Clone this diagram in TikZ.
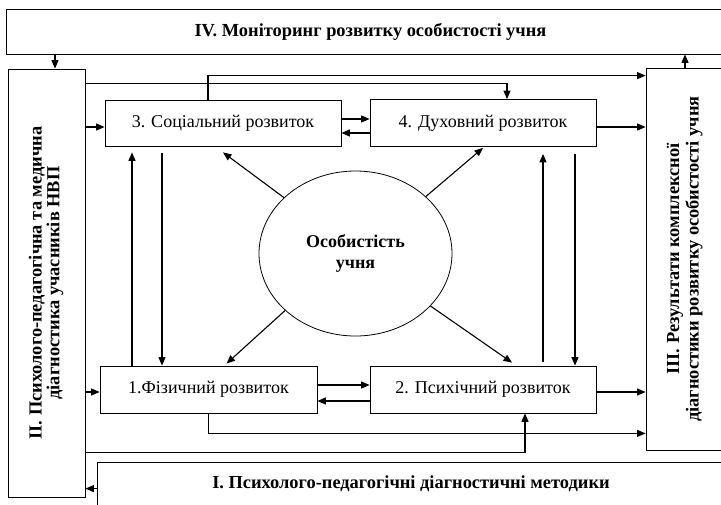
\documentclass[tikz,border=0pt]{standalone}
\usepackage{fontspec}
\setmainfont{Liberation Serif}
\usepackage{graphicx}
\usetikzlibrary{shapes.geometric, arrows.meta, positioning}
\tikzstyle{recNode} = [rectangle, draw=black, line width=0.8pt, inner sep=0pt, text centered, font=\fontsize{18}{20}\selectfont]
\tikzstyle{headNode} = [recNode, align=center, font=\bfseries\fontsize{18.4}{20}\selectfont]
\tikzstyle{ellNode} = [ellipse, draw=black, line width=0.8pt, inner sep=0pt, minimum width=193pt, minimum height=165pt, align=center, font=\bfseries\fontsize{18}{20.5}\selectfont]
\tikzstyle{arrow} = [line width=1.1pt, -{Triangle[length=8.5pt,width=7pt]}]
\newcommand{\vertText}[3]{\rotatebox{90}{\fontsize{18.4}{#1}\selectfont\begin{tabular}{@{}c@{}}#2\\#3\end{tabular}}}

\begin{document}
\begin{tikzpicture}[x=1pt, y=-1pt, node distance=260pt]
        \useasboundingbox (0,0) rectangle (721,504);
        \node (mon) [headNode, minimum width=729pt, minimum height=45pt] at (370.5,31.5) {IV. Моніторинг розвитку особистості учня};
        \node (diag) [headNode, minimum width=77pt, minimum height=428pt] at (46.5,283) {\vertText{16.5pt}{II. Психолого-педагогічна та медична}{діагностика учасників НВП}};
        \node (res) [headNode, minimum width=78pt, minimum height=382pt] at (685,259) {\vertText{19.5pt}{III. Результати комплексної}{діагностики розвитку особистості учня}};
        \node (meth) [headNode, minimum width=628pt, minimum height=44pt] at (411,484) {I. Психолого-педагогічні діагностичні методики};
        \node (soc) [recNode, minimum width=236pt, minimum height=46pt] at (223,123) {3. Соціальний розвиток};
        \node (dukh) [recNode, minimum width=226pt, minimum height=47pt, right of=soc] {4. Духовний розвиток};
        \node (fiz) [recNode, minimum width=217pt, minimum height=47pt, below of=soc, xshift=-14.5pt, yshift=-6.5pt] {1.Фізичний розвиток};
        \node (psy) [recNode, minimum width=226pt, minimum height=47pt, right of=fiz, xshift=14.5pt] {2. Психічний розвиток};
        \node (ell) [ellNode] at (355.5,253.5) {Особистість\\учня};

        % frame links
        \draw [arrow] ([xshift=8.5pt]diag.north |- mon.south) -- ([xshift=8.5pt]diag.north);
        \draw [arrow] (res.north) -- (res.north |- mon.south);
        \draw [arrow] ([yshift=-27pt]meth.north west) -- ([yshift=-27pt]meth.north west -| diag.east);
        \draw [arrow] ([yshift=-4pt]soc.west -| diag.east) -- ([yshift=-4pt]soc.west);
        \draw [arrow] ([yshift=-2.5pt]fiz.west -| diag.east) -- ([yshift=-2.5pt]fiz.west);
        \draw [arrow] ([yshift=-4pt]dukh.east) -- ([yshift=-4pt]dukh.east -| res.west);
        \draw [arrow] ([yshift=-2.5pt]psy.east) -- ([yshift=-2.5pt]psy.east -| res.west);
        \draw [arrow] ([yshift=-15pt]diag.north east) -| ([xshift=24pt]dukh.north);
        \draw [arrow] ([xshift=-15pt]soc.north) |- ([yshift=-8pt]res.north west);
        \draw [arrow] (fiz.south) |- ([yshift=17pt]res.south west);
        \draw [arrow] ([yshift=45pt]diag.south east) -| ([xshift=42pt]psy.south);

        % between the boxes
        \draw [arrow] ([yshift=4pt]soc.east) -- ([yshift=4pt]soc.east -| dukh.west);
        \draw [arrow] ([yshift=-10pt]dukh.west) -- ([yshift=-10pt]dukh.west -| soc.east);
        \draw [arrow] ([yshift=4.5pt]fiz.east) -- ([yshift=4.5pt]fiz.east -| psy.west);
        \draw [arrow] ([yshift=-11.5pt]psy.west) -- ([yshift=-11.5pt]psy.west -| fiz.east);
        \draw [arrow] ([xshift=-76.5pt]fiz.north) -- ([xshift=-76.5pt,yshift=-6pt]fiz.north |- soc.south);
        \draw [arrow] ([xshift=-61pt,yshift=-7pt]soc.south) -- ([xshift=-61pt]soc.south |- fiz.north);
        \draw [arrow] ([xshift=60pt,yshift=4pt]psy.north) -- ([xshift=60pt,yshift=-7pt]psy.north |- dukh.south);
        \draw [arrow] ([xshift=92pt,yshift=-7pt]dukh.south) -- ([xshift=92pt]dukh.south |- psy.north);

        % from the centre
        \draw [arrow] (ell.142.6) -- ([yshift=-6pt]soc.south);
        \draw [arrow] (ell.39.3) -- ([yshift=-1pt]dukh.south);
        \draw [arrow] (ell.219.6) -- ([xshift=18pt,yshift=2pt]fiz.north);
        \draw [arrow] (ell.325.5) -- ([xshift=29pt,yshift=3pt]psy.north);
    \end{tikzpicture}
\end{document}
